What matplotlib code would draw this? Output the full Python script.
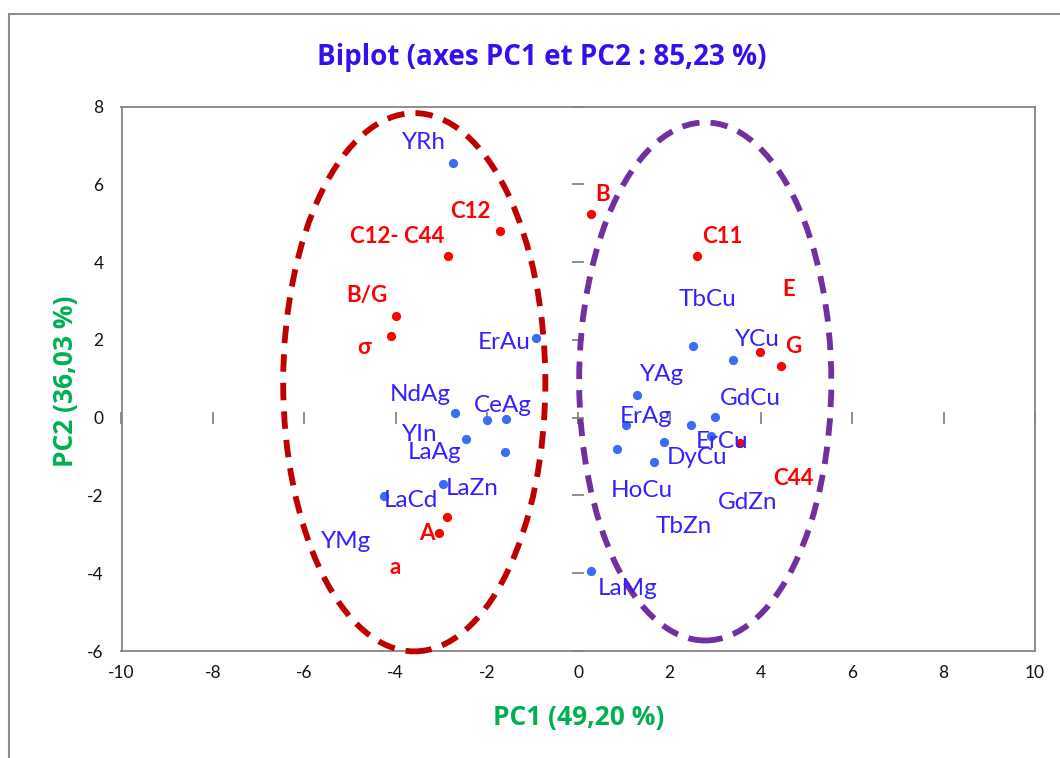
import matplotlib
matplotlib.use("Agg")
import matplotlib.pyplot as plt
from matplotlib.patches import Ellipse, Rectangle

plt.rcParams['font.family'] = ['Lato', 'DejaVu Sans']
plt.rcParams['axes.unicode_minus'] = False

# Compounds (blue) – PCA scores
blue_x = [-2.74, -0.92, -2.70, -1.99, -1.58, -2.45, -1.61, -2.96, -4.26,
          2.52, 3.38, 1.29, 1.04, 2.99, 2.47, 2.90, 1.87, 0.85, 1.65, 0.28]
blue_y = [6.56, 2.04, 0.12, -0.07, -0.04, -0.55, -0.88, -1.70, -2.01,
          1.85, 1.49, 0.59, -0.18, 0.02, -0.19, -0.46, -0.63, -0.81, -1.15, -3.95]

# Properties (red) – PCA loadings
red_x = [-1.71, -2.86, -3.99, -4.09, -2.88, -3.04, 0.28, 2.61, 3.98, 4.44, 3.54]
red_y = [4.79, 4.15, 2.61, 2.09, -2.56, -2.97, 5.24, 4.15, 1.68, 1.32, -0.64]

# Compound labels and where they sit
blue_names = ["YRh", "ErAu", "NdAg", "CeAg", "YIn", "LaAg", "LaZn", "LaCd", "YMg",
              "TbCu", "YCu", "YAg", "GdCu", "ErAg", "ErCu", "DyCu", "HoCu",
              "GdZn", "TbZn", "LaMg"]
blue_lx = [-3.37, -1.63, -3.46, -1.66, -3.48, -3.14, -2.32, -3.66, -5.09,
           2.82, 3.93, 1.83, 3.77, 1.48, 3.15, 2.61, 1.39, 3.71, 2.30, 1.08]
blue_ly = [6.90, 1.76, 0.42, 0.14, -0.61, -1.07, -1.98, -2.31, -3.36,
           2.86, 1.84, 0.93, 0.33, -0.15, -0.78, -1.20, -2.04, -2.36, -2.97, -4.57]

# Property labels and where they sit
red_names = ["C12", "C12- C44", "B/G", "σ", "A", "a", "B", "C11", "E", "G", "C44"]
red_lx = [-2.36, -3.97, -4.62, -4.69, -3.31, -4.01, 0.53, 3.16, 4.60, 4.71, 4.70]
red_ly = [5.13, 4.48, 2.97, 1.63, -3.15, -4.03, 5.56, 4.48, 3.12, 1.65, -1.74]

# Group envelopes: (centre x, centre y, width, height)
group_left = (-3.59, 0.91, 5.74, 13.84)
group_right = (2.78, 0.93, 5.52, 13.32)

x_ticks = list(range(-10, 11, 2))
y_ticks = list(range(-6, 9, 2))

GRAY = '#868686'
BLUE_PT = '#3A6CF5'
BLUE_TX = '#3322FF'
RED = '#FF0000'
GREEN = '#00B050'
HEAD_FONT = ['Open Sans', 'Lato', 'DejaVu Sans']

W, H = 1060, 758
fig = plt.figure(figsize=(W / 100, H / 100), dpi=100)

# outer chart border
fig.patches.append(Rectangle((9 / W, -0.05), 1.2, 1 - 13.5 / H + 0.05,
                             transform=fig.transFigure, fill=False,
                             edgecolor='#8c8c8c', linewidth=1.5))

pos = [121.5 / W, 1 - 651 / H, (1035 - 121.5) / W, (651 - 106.5) / H]

# frame axes: box and tick labels
ax = fig.add_axes(pos)
ax.set_xlim(-10, 10)
ax.set_ylim(-6, 8)
ax.set_xticks(x_ticks)
ax.set_yticks(y_ticks)
for s in ax.spines.values():
    s.set_color(GRAY)
    s.set_linewidth(1.3)
ax.tick_params(length=0, labelsize=12.5, colors='#111111')
ax.tick_params(axis='y', pad=13)
ax.tick_params(axis='x', pad=10)

# zero axes with crossing tick marks, plus the data
ax2 = fig.add_axes(pos, frameon=False)
ax2.set_xlim(-10, 10)
ax2.set_ylim(-6, 8)
ax2.set_xticks(x_ticks)
ax2.set_yticks(y_ticks)
for side in ('top', 'right'):
    ax2.spines[side].set_visible(False)
for side in ('left', 'bottom'):
    ax2.spines[side].set_visible(True)
    ax2.spines[side].set_position(('data', 0))
    ax2.spines[side].set_color(GRAY)
    ax2.spines[side].set_linewidth(1.3)
ax2.tick_params(direction='inout', length=9, width=1.3, color=GRAY,
                labelleft=False, labelbottom=False)

for (cx, cy, w, h), col in ((group_left, '#C00000'), (group_right, '#7030A0')):
    ax2.add_patch(Ellipse((cx, cy), w, h, fill=False, edgecolor=col,
                          linewidth=4.2, linestyle=(0, (3.0, 1.9)),
                          capstyle='butt', clip_on=False, zorder=2))

ax2.scatter(blue_x, blue_y, s=44, color=BLUE_PT, zorder=4, linewidths=0)
ax2.scatter(red_x, red_y, s=44, color=RED, zorder=5, linewidths=0)

for name, lx, ly in zip(blue_names, blue_lx, blue_ly):
    ax2.text(lx, ly, name, color=BLUE_TX, fontsize=17.5, ha='center',
             va='baseline', zorder=6)
for name, lx, ly in zip(red_names, red_lx, red_ly):
    ax2.text(lx, ly, name, color=RED, fontsize=16, fontweight='bold',
             ha='center', va='baseline', zorder=6)

fig.text(542 / W, 1 - 65 / H, "Biplot (axes PC1 et PC2 : 85,23 %)",
         color='#3311EE', fontsize=20, fontweight='bold', family=HEAD_FONT,
         ha='center', va='baseline')
fig.text(578.5 / W, 1 - 725 / H, "PC1 (49,20 %)", color=GREEN, fontsize=19,
         fontweight='bold', family=HEAD_FONT, ha='center', va='baseline')
fig.text(73 / W, 1 - 381 / H, "PC2 (36,03 %)", color=GREEN, fontsize=19,
         fontweight='bold', family=HEAD_FONT, ha='center', va='baseline',
         rotation=90, rotation_mode='anchor')

fig.savefig("out.png", dpi=100)
